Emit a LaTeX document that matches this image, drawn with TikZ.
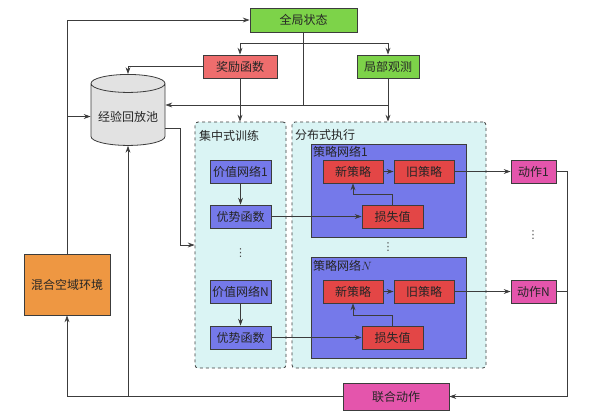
\documentclass[tikz,border=0pt]{standalone}
\usepackage{fontspec}
\newfontfamily\cjk{Noto Sans CJK SC}
\newfontfamily\symb{DejaVu Sans}
\usetikzlibrary{positioning,shapes.geometric,arrows.meta}
\definecolor{Grass}{HTML}{7DD349}
\definecolor{Salmon}{HTML}{EE6D6D}
\definecolor{Crimson}{HTML}{E34646}
\definecolor{Violet}{HTML}{7579EA}
\definecolor{Orchid}{HTML}{E455AC}
\definecolor{Amber}{HTML}{EE9742}
\definecolor{Ice}{HTML}{DAF4F4}
\definecolor{Ash}{HTML}{E2E2E2}
\definecolor{Ink}{HTML}{3C3C3C}

\begin{document}
\begin{tikzpicture}[x=1pt, y=-1pt,
    block/.style={rectangle, draw=Ink, line width=0.8pt, text=black!85, minimum height=23pt, inner sep=0pt, font=\cjk\fontsize{12}{12}\selectfont},
    group/.style={rectangle, draw=Ink, dashed, line width=0.8pt, rounded corners=3pt, fill=Ice},
    title/.style={anchor=west, inner sep=0pt, text=black!85, font=\cjk\fontsize{12}{12}\selectfont},
    dots/.style={inner sep=0pt, text=black!70, font=\symb\fontsize{11}{11}\selectfont},
    arrow/.style={-{Stealth[length=2.4mm, width=1.7mm]}, draw=Ink, line width=0.7pt},
    line/.style={draw=Ink, line width=0.7pt}
]
\useasboundingbox (0,0) rectangle (591,416);

% containers
\node[group, minimum width=91pt, minimum height=246pt] (ctrain) at (240.5,245) {};
\node[group, minimum width=194pt, minimum height=246pt] (dexec) at (389,245) {};
\node[title] at (199,136) {集中式训练};
\node[title] at (295,135) {分布式执行};
\node[rectangle, draw=Ink, line width=0.8pt, fill=Violet, minimum width=155pt, minimum height=93pt] (pnet1) at (388.5,190.5) {};
\node[rectangle, draw=Ink, line width=0.8pt, fill=Violet, minimum width=155pt, minimum height=101pt] (pnetN) at (388.5,307.5) {};
\node[title] at (313,152) {策略网络1};
\node[title] at (313,266) {策略网络$N$};

% top row
\node[block, fill=Grass, minimum width=107pt, minimum height=24pt] (global) at (303.5,20) {全局状态};
\node[block, fill=Salmon, minimum width=74pt] (reward) at (240,66.5) {奖励函数};
\node[block, fill=Grass, minimum width=62pt] (localobs) at (388,66.5) {局部观测};
\node[cylinder, shape border rotate=90, aspect=0.27, draw=Ink, line width=0.8pt, fill=Ash, minimum width=74pt, minimum height=71pt, text=black!85, font=\cjk\fontsize{12}{12}\selectfont] (buffer) at (128,116.5) {经验回放池};
\node[block, fill=Amber, minimum width=86pt, minimum height=61pt] (env) at (67,284.5) {混合空域环境};

% centralised training
\node[block, fill=Violet, minimum width=61pt] (vnet1) at (240.5,171.5) {价值网络1};
\node[block, fill=Violet, minimum width=61pt] (adv1) at (240.5,216.5) {优势函数};
\node[dots] (vdots) at (240.5,253) {⋮};
\node[block, fill=Violet, minimum width=61pt] (vnetN) at (240.5,291.5) {价值网络N};
\node[block, fill=Violet, minimum width=61pt] (advN) at (240.5,337.5) {优势函数};

% decentralised execution
\node[block, fill=Crimson, minimum width=60pt] (new1) at (353,171.5) {新策略};
\node[block, fill=Crimson, minimum width=60pt] (old1) at (424,171.5) {旧策略};
\node[block, fill=Crimson, minimum width=61pt] (loss1) at (392.5,216.5) {损失值};
\node[dots] (pdots) at (388,247) {⋮};
\node[block, fill=Crimson, minimum width=60pt] (newN) at (353,291.5) {新策略};
\node[block, fill=Crimson, minimum width=60pt] (oldN) at (424,291.5) {旧策略};
\node[block, fill=Crimson, minimum width=61pt] (lossN) at (392.5,337.5) {损失值};

% actions
\node[block, fill=Orchid, minimum width=45pt] (act1) at (533.5,171.5) {动作1};
\node[dots] (adots) at (533,235) {⋮};
\node[block, fill=Orchid, minimum width=45pt] (actN) at (533.5,291.5) {动作N};
\node[block, fill=Orchid, minimum width=106pt, minimum height=27pt] (joint) at (396,396.5) {联合动作};

% state flow
\draw[arrow] (env.north) |- (global.west);
\draw[arrow] (env.north |- buffer) -- (buffer);
\draw[line] (global.south) -- (global.south |- 0,105);
\draw[arrow] (global.south |- 0,43) -| (reward.north);
\draw[arrow] (global.south |- 0,43) -| (localobs.north);
\draw[arrow] (reward.west) -| (buffer.north);
\draw[arrow] (reward.south) -- (reward.south |- ctrain.north);
\draw[arrow] (localobs.south) -- (localobs.south |- dexec.north);
\draw[arrow] (localobs.south |- 0,105) -- (buffer.east |- 0,105);
\draw[arrow] (buffer.east |- 0,128) -- (180,128) |- (ctrain.west);

% networks
\draw[arrow] (vnet1) -- (adv1);
\draw[arrow] (vnetN) -- (advN);
\draw[arrow] (adv1) -- (loss1);
\draw[arrow] (advN) -- (lossN);
\draw[arrow] (new1) -- (old1);
\draw[arrow] (newN) -- (oldN);
\draw[arrow] (loss1.north) -- (loss1.north |- 0,194) -| (new1.south);
\draw[arrow] (lossN.north) -- (lossN.north |- 0,315) -| (newN.south);
\draw[arrow] (old1) -- (act1);
\draw[arrow] (oldN) -- (actN);

% joint action back to environment
\draw[arrow] (act1.east) -- (567,171.5) |- (joint.east);
\draw[line] (actN.east) -- (567,291.5);
\draw[arrow] (joint.west) -| (env.south);
\draw[arrow] (buffer |- joint.west) -- (buffer);
\end{tikzpicture}
\end{document}
